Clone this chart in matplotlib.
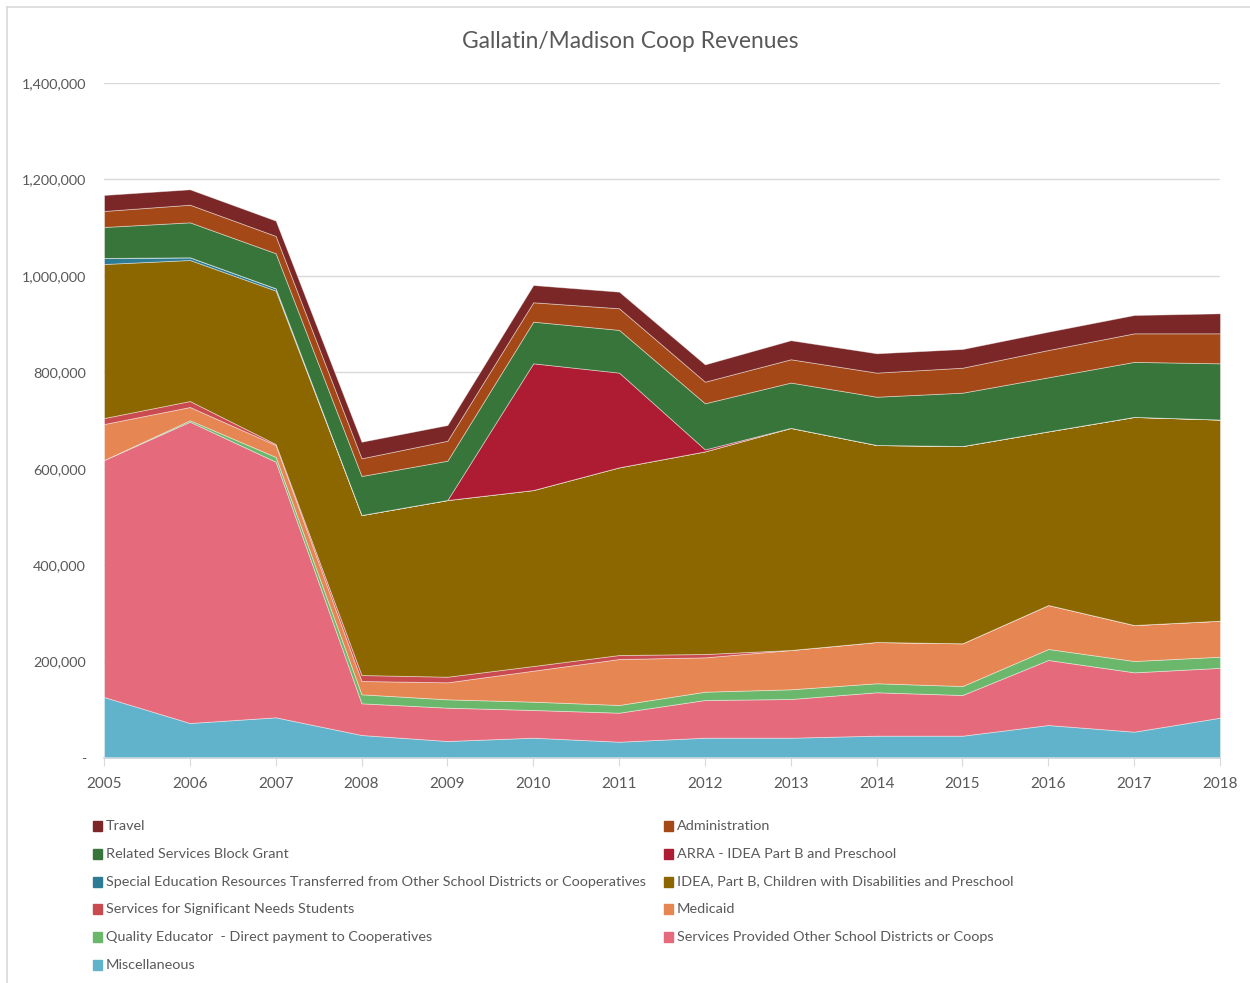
import numpy as np
import matplotlib
matplotlib.use("Agg")
import matplotlib.pyplot as plt
from matplotlib.patches import Rectangle
from matplotlib.lines import Line2D
from matplotlib.ticker import FuncFormatter

plt.rcParams['font.family'] = ['Lato', 'DejaVu Sans']

years = list(range(2005, 2019))

# series, bottom of the stack first
misc = [126500, 72600, 84400, 47700, 35300, 42100, 33800, 42100, 42100, 46300, 46300, 68400, 54600, 83600]
services_provided = [491500, 624900, 530100, 65700, 69100, 57500, 60200, 78200, 80300, 90000, 84400, 134900, 123100, 103400]
quality_educator = [0, 3000, 10000, 18700, 17300, 17200, 16000, 17200, 20100, 18700, 18600, 22800, 23500, 23100]
medicaid = [74700, 27500, 24700, 27600, 35300, 64300, 95300, 71300, 81500, 85600, 88600, 91200, 74600, 74700]
significant_needs = [12400, 12400, 2000, 12400, 11600, 9700, 8300, 6900, 0, 0, 0, 0, 0, 0]
idea = [319500, 292500, 318200, 331900, 366500, 365000, 389300, 420300, 460700, 408600, 409200, 360300, 431700, 417200]
sped_transferred = [12500, 5600, 4800, 0, 0, 0, 0, 0, 0, 0, 0, 0, 0, 0]
arra = [0, 0, 0, 0, 0, 262800, 196400, 4000, 0, 0, 0, 0, 0, 0]
related_services = [64300, 72500, 72700, 80900, 81500, 86400, 88600, 95700, 94000, 100100, 110600, 112000, 114100, 116600]
administration = [33200, 36600, 35900, 36700, 41400, 40200, 44900, 44800, 48300, 50000, 51800, 56600, 59200, 62200]
travel = [33200, 31900, 31800, 34400, 32600, 35800, 34400, 35900, 39500, 40100, 38800, 38000, 38000, 41500]

labels = [
    "Miscellaneous",
    "Services Provided Other School Districts or Coops",
    "Quality Educator  - Direct payment to Cooperatives",
    "Medicaid",
    "Services for Significant Needs Students",
    "IDEA, Part B, Children with Disabilities and Preschool",
    "Special Education Resources Transferred from Other School Districts or Cooperatives",
    "ARRA - IDEA Part B and Preschool",
    "Related Services Block Grant",
    "Administration",
    "Travel",
]
colors = ["#61B3CC", "#E56B7C", "#6BB76B", "#E68652", "#C94B4F", "#8C6700",
          "#2E7C94", "#AD1C33", "#38753A", "#A54817", "#7B2727"]
series = [misc, services_provided, quality_educator, medicaid, significant_needs, idea,
          sped_transferred, arra, related_services, administration, travel]

W, H = 1250, 983
fig = plt.figure(figsize=(W / 100, H / 100), dpi=100)
ax = fig.add_axes([104 / W, 1 - 758 / H, 1116 / W, 675 / H])

polys = ax.stackplot(years, *series, colors=colors, labels=labels,
                     edgecolor=(1, 1, 1, 0.45), linewidth=0.6)

ax.set_xlim(2005, 2018)
ax.set_ylim(0, 1400000)
ax.set_yticks(range(0, 1400001, 200000))
ax.yaxis.set_major_formatter(FuncFormatter(lambda v, p: "-" if v == 0 else f"{int(v):,}"))
ax.set_xticks(years)
ax.grid(axis='y', color='#d9d9d9', linewidth=1)
ax.set_axisbelow(True)
for s in ['top', 'right', 'left']:
    ax.spines[s].set_visible(False)
ax.spines['bottom'].set_color('#d0d8dc')
ax.spines['bottom'].set_linewidth(1.2)
ax.tick_params(axis='y', length=0, pad=13, labelsize=10.4, labelcolor='#595959')
ax.tick_params(axis='x', length=6, color='#d9d9d9', pad=8, labelsize=11, labelcolor='#595959')

fig.text(630 / W, 1 - 41 / H, "Gallatin/Madison Coop Revenues", ha='center', va='center',
         fontsize=16.4, color='#595959')

# legend, laid out row by row like the original
legend_order = [10, 9, 8, 7, 6, 5, 4, 3, 2, 1, 0]
col_x = [93, 664]
row_y0, row_dy = 826, 27.8
for i, idx in enumerate(legend_order):
    r, c = divmod(i, 2)
    x = col_x[c]
    y = row_y0 + r * row_dy
    fig.patches.append(Rectangle((x / W, 1 - (y + 5) / H), 9 / W, 10 / H,
                                 transform=fig.transFigure, color=colors[idx]))
    fig.text((x + 13) / W, 1 - y / H, labels[idx], ha='left', va='center',
             fontsize=10.4, color='#595959')

# chart border
fig.add_artist(Line2D([7 / W, 1], [1 - 7 / H, 1 - 7 / H], color='#d9d9d9', linewidth=1.2))
fig.add_artist(Line2D([7 / W, 7 / W], [0, 1 - 7 / H], color='#d9d9d9', linewidth=1.2))

fig.savefig("out.png", dpi=100)
